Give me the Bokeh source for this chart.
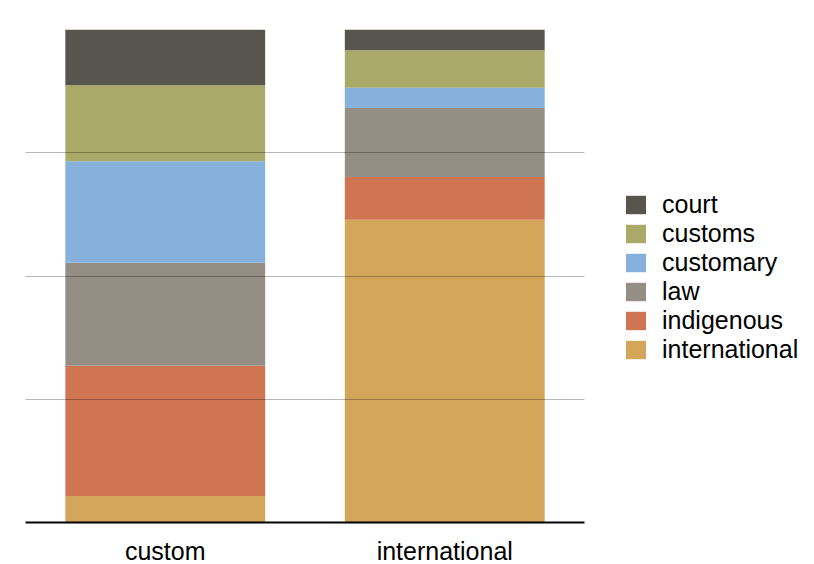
from bokeh.plotting import figure
from bokeh.models import ColumnDataSource, Legend, LegendItem, FixedTicker
from bokeh.embed import file_html
from bokeh.resources import INLINE

categories = ["custom", "international"]
series = ["international", "indigenous", "law", "customary", "customs", "court"]
international = [5.4, 61.4]
indigenous = [26.4, 8.7]
law = [20.9, 14.0]
customary = [20.6, 4.1]
customs = [15.4, 7.6]
court = [11.3, 4.2]
colors = ["#D4A65A", "#CF7551", "#958E84", "#85B1DC", "#A9AA69", "#58554F"]

data = {"cat": categories, "international": international, "indigenous": indigenous,
        "law": law, "customary": customary, "customs": customs, "court": court}
src = ColumnDataSource(data)

p = figure(x_range=categories, y_range=(0, 100), frame_width=559, frame_height=493,
           output_backend="svg", toolbar_location=None,
           min_border_left=25, min_border_top=29, min_border_right=228, min_border_bottom=0)

rs = p.vbar_stack(series, x="cat", width=0.715, source=src, color=colors,
                  line_color=None, fill_alpha=1.0)

p.outline_line_color = None
p.xgrid.grid_line_color = None
p.ygrid.ticker = FixedTicker(ticks=[0, 25, 50, 75, 100])
p.ygrid.grid_line_color = "black"
p.ygrid.grid_line_alpha = 0.28
p.ygrid.level = "overlay"
p.yaxis.visible = False

p.xaxis.axis_line_color = "black"
p.xaxis.axis_line_width = 2
p.xaxis.major_tick_line_color = None
p.xaxis.minor_tick_line_color = None
p.xaxis.major_label_text_font = "Liberation Sans"
p.xaxis.major_label_text_font_size = "25px"
p.xaxis.major_label_text_color = "black"
p.xaxis.major_label_standoff = 8

items = [LegendItem(label=s, renderers=[r]) for s, r in zip(series, rs)]
items = items[::-1]
legend = Legend(items=items, location=(39, 158))
legend.border_line_color = None
legend.background_fill_alpha = 0
legend.padding = 0
legend.margin = 0
legend.glyph_width = 25
legend.glyph_height = 23
legend.label_height = 29
legend.spacing = 0
legend.label_standoff = 14
legend.label_text_font = "Liberation Sans"
legend.label_text_font_size = "25px"
legend.label_text_color = "black"
p.add_layout(legend, "right")

open("out.html", "w").write(file_html(p, INLINE))
